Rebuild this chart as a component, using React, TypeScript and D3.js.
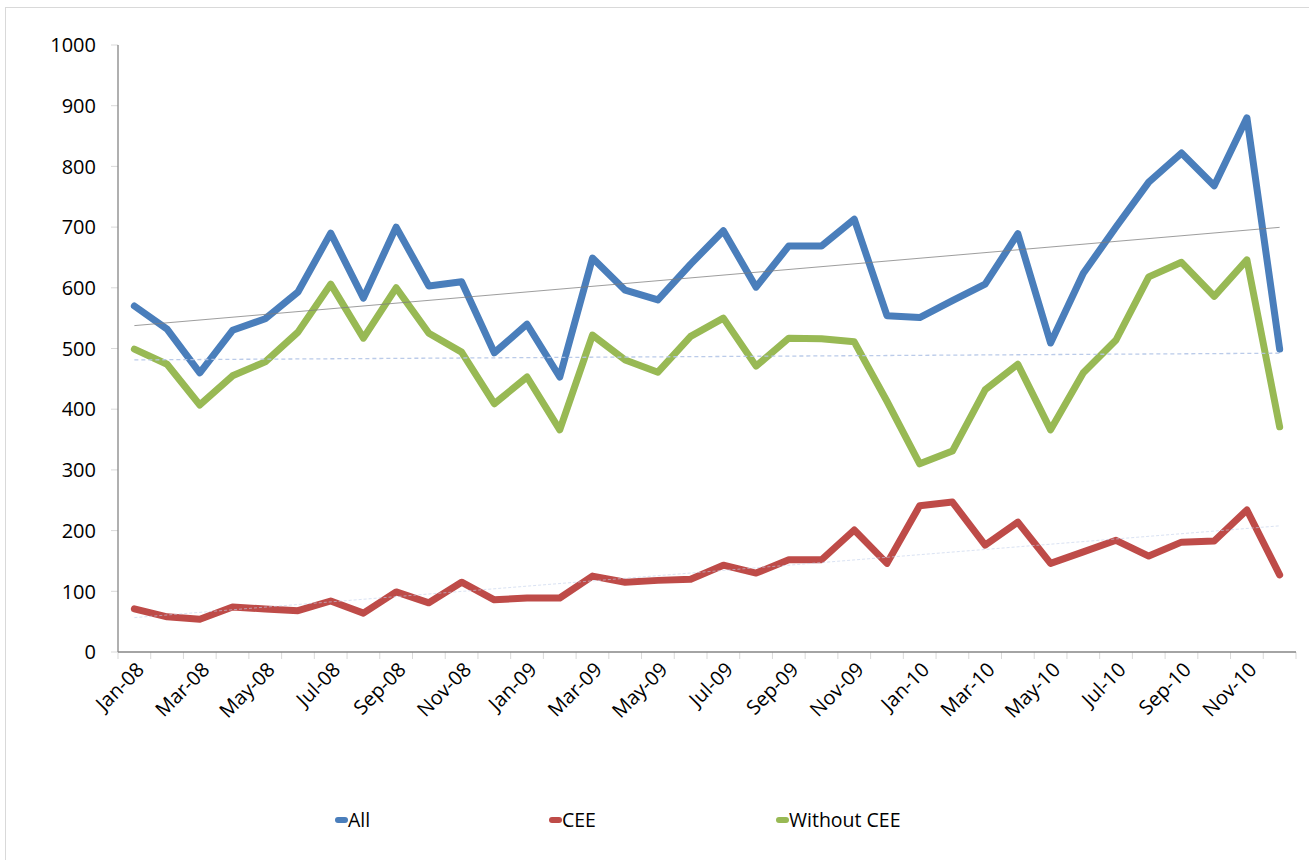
import React from "react";
import * as d3 from "d3";

const months: string[] = [
  "Jan-08","Feb-08","Mar-08","Apr-08","May-08","Jun-08","Jul-08","Aug-08","Sep-08","Oct-08","Nov-08","Dec-08",
  "Jan-09","Feb-09","Mar-09","Apr-09","May-09","Jun-09","Jul-09","Aug-09","Sep-09","Oct-09","Nov-09","Dec-09",
  "Jan-10","Feb-10","Mar-10","Apr-10","May-10","Jun-10","Jul-10","Aug-10","Sep-10","Oct-10","Nov-10","Dec-10",
];

const allValues: number[] = [
  570, 532, 460, 530, 549, 593, 690, 583, 700, 603, 610, 493,
  540, 453, 649, 596, 580, 639, 694, 601, 669, 669, 713, 554,
  551, 579, 606, 689, 509, 624, 700, 774, 822, 768, 880, 499,
];

const ceeValues: number[] = [
  71, 58, 54, 74, 71, 68, 84, 64, 99, 81, 115, 86,
  89, 89, 125, 115, 118, 120, 143, 130, 152, 152, 201, 146,
  241, 247, 176, 214, 146, 165, 184, 158, 181, 183, 234, 127,
];

const withoutCeeValues: number[] = [
  499, 474, 407, 455, 478, 527, 606, 517, 600, 525, 494, 409,
  453, 366, 522, 481, 461, 520, 550, 471, 517, 516, 511, 413,
  310, 331, 432, 474, 366, 460, 514, 618, 642, 586, 646, 371,
];

const yTicks: number[] = [0, 100, 200, 300, 400, 500, 600, 700, 800, 900, 1000];

const seriesNames: string[] = ["All", "CEE", "Without CEE"];
const seriesColors: string[] = ["#4a7ebb", "#be4b48", "#98b954"];

const W = 1309;
const H = 860;
const FONT = "'Open Sans', 'Liberation Sans', sans-serif";

function linreg(vals: number[]) {
  const n = vals.length;
  const xm = d3.mean(vals.map((_, i) => i)) as number;
  const ym = d3.mean(vals) as number;
  let num = 0, den = 0;
  vals.forEach((v, i) => { num += (i - xm) * (v - ym); den += (i - xm) * (i - xm); });
  const b = num / den;
  const a = ym - b * xm;
  return [a, a + b * (n - 1)];
}

export default function App() {
  const left = 118, right = 1296, top = 45, bottom = 652;
  const x = d3.scaleBand<string>().domain(months).range([left, right]).paddingInner(0).paddingOuter(0);
  const y = d3.scaleLinear().domain([0, 1000]).range([bottom, top]);
  const cx = (m: string) => (x(m) as number) + x.bandwidth() / 2;

  const line = d3.line<number>().x((_, i) => cx(months[i])).y((v) => y(v));
  const data = [allValues, ceeValues, withoutCeeValues];

  const trends = data.map((vals) => linreg(vals));
  const trendStyles = [
    { stroke: "#808080", width: 0.9, dash: "none", opacity: 0.85 },
    { stroke: "#c3d1ec", width: 1, dash: "3,2", opacity: 0.6 },
    { stroke: "#b4c6e7", width: 1.3, dash: "4,3", opacity: 0.9 },
  ];

  const boundaries = d3.range(months.length + 1).map((i) => left + i * x.bandwidth());

  const legendX = [335, 549, 776];

  return (
    <svg width={W} height={H} style={{ position: "absolute", left: 0, top: 0, background: "#fff" }}>
      <rect x={5.5} y={7.5} width={W + 20} height={H + 20} fill="#fff" stroke="#d9d9d9" strokeWidth={1} />

      {/* y ticks */}
      {yTicks.map((t) => (
        <g key={t}>
          <line x1={111} x2={left} y1={y(t)} y2={y(t)} stroke="#d9d9d9" strokeWidth={1} />
          <text x={96} y={y(t)} dy="0.36em" textAnchor="end" fontFamily={FONT} fontSize={20} fill="#000">{t}</text>
        </g>
      ))}
      {/* x ticks */}
      {boundaries.map((b, i) => (
        <line key={i} x1={b} x2={b} y1={bottom} y2={bottom + 7} stroke="#d9d9d9" strokeWidth={1} />
      ))}
      <line x1={left} x2={left} y1={top} y2={bottom} stroke="#868686" strokeWidth={1.3} />
      <line x1={left} x2={right} y1={bottom} y2={bottom} stroke="#868686" strokeWidth={1.3} />

      {months.map((m, i) => i % 2 === 0 ? (
        <text key={m} transform={`translate(${cx(m) + 6},${bottom + 14}) rotate(-45)`} textAnchor="end" dy="0.35em"
          fontFamily={FONT} fontSize={20} fill="#000">{m}</text>
      ) : null)}

      {data.map((vals, si) => (
        <path key={si} d={line(vals) as string} fill="none" stroke={seriesColors[si]} strokeWidth={7}
          strokeLinejoin="round" strokeLinecap="round" />
      ))}

      {trends.map((tr, si) => (
        <line key={si} x1={cx(months[0])} x2={cx(months[months.length - 1])} y1={y(tr[0])} y2={y(tr[1])}
          stroke={trendStyles[si].stroke} strokeWidth={trendStyles[si].width}
          strokeDasharray={trendStyles[si].dash} opacity={trendStyles[si].opacity} />
      ))}

      {seriesNames.map((name, si) => (
        <g key={name}>
          <line x1={legendX[si] + 3} x2={legendX[si] + 10} y1={820} y2={820} stroke={seriesColors[si]} strokeWidth={6} strokeLinecap="round" />
          <text x={legendX[si] + 13} y={820} dy="0.36em" fontFamily={FONT} fontSize={19.5} fill="#000">{name}</text>
        </g>
      ))}
    </svg>
  );
}
